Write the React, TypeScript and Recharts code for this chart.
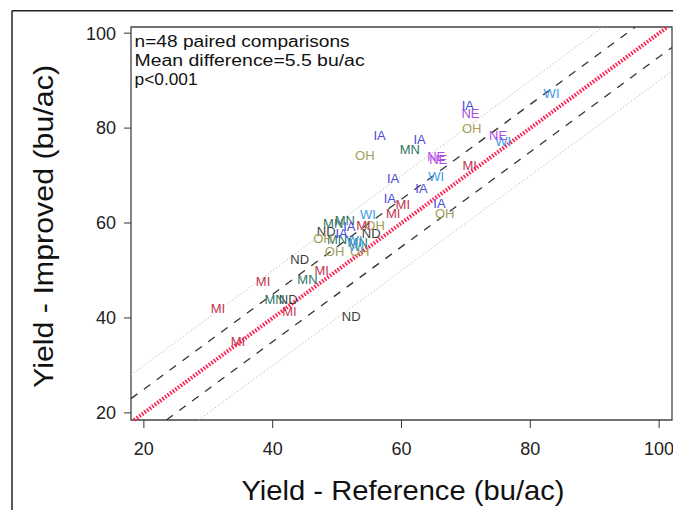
import React from 'react';
import { ScatterChart, Scatter, XAxis, YAxis, ReferenceLine, ReferenceArea } from 'recharts';

// ---- data (Yield - Reference, Yield - Improved), bu/ac ----
const iaPoints = [
  { x: 70.3, y: 84.8 }, { x: 56.6, y: 78.5 }, { x: 62.8, y: 77.5 }, { x: 58.7, y: 69.4 },
  { x: 63.1, y: 67.3 }, { x: 58.2, y: 65.2 }, { x: 65.9, y: 64.1 }, { x: 50.7, y: 57.8 },
  { x: 51.9, y: 59.2 },
];
const nePoints = [
  { x: 70.7, y: 83.1 }, { x: 75.0, y: 78.5 }, { x: 65.4, y: 74.0 }, { x: 65.7, y: 73.3 },
];
const ohPoints = [
  { x: 70.9, y: 79.9 }, { x: 54.3, y: 74.3 }, { x: 66.7, y: 62.0 }, { x: 55.9, y: 59.4 },
  { x: 47.8, y: 56.8 }, { x: 49.6, y: 54.0 }, { x: 53.5, y: 54.0 },
];
const wiPoints = [
  { x: 75.8, y: 77.1 }, { x: 83.3, y: 87.3 }, { x: 65.4, y: 69.7 }, { x: 54.8, y: 61.7 },
  { x: 52.7, y: 56.4 }, { x: 53.0, y: 55.0 },
];
const mnPoints = [
  { x: 61.3, y: 75.4 }, { x: 51.2, y: 60.6 }, { x: 49.4, y: 59.9 }, { x: 53.2, y: 55.8 },
  { x: 45.4, y: 48.2 }, { x: 40.3, y: 43.8 }, { x: 50.0, y: 56.5 },
];
const miPoints = [
  { x: 70.6, y: 72.2 }, { x: 60.2, y: 63.8 }, { x: 58.7, y: 62.0 }, { x: 54.1, y: 59.4 },
  { x: 47.6, y: 50.1 }, { x: 38.5, y: 47.6 }, { x: 42.6, y: 41.3 }, { x: 31.5, y: 42.0 },
  { x: 34.6, y: 35.0 },
];
const ndPoints = [
  { x: 48.3, y: 58.2 }, { x: 55.3, y: 57.8 }, { x: 44.2, y: 52.4 }, { x: 42.4, y: 43.8 },
  { x: 52.2, y: 40.3 },
];

const states = [
  { name: 'ND', data: ndPoints, color: '#3d3d3d' },
  { name: 'MN', data: mnPoints, color: '#2f7566' },
  { name: 'OH', data: ohPoints, color: '#a39e5c' },
  { name: 'MI', data: miPoints, color: '#c2344f' },
  { name: 'WI', data: wiPoints, color: '#3d9ce8' },
  { name: 'NE', data: nePoints, color: '#b04ce6' },
  { name: 'IA', data: iaPoints, color: '#4a4ad8' },
];

const xTicks = [20, 40, 60, 80, 100];
const yTicks = [20, 40, 60, 80, 100];
const xDomain: [number, number] = [18, 102];
const yDomain: [number, number] = [18.5, 101.3];

const annotation = ['n=48 paired comparisons', 'Mean difference=5.5 bu/ac', 'p<0.001'];
const annotationLengths = [215, 230, 63];

// offsets of the 1:1 line and the bands
const bandLines = [
  { d: -10, stroke: '#b5b5b5', width: 1, dash: '1.2 2.2' },
  { d: 10, stroke: '#b5b5b5', width: 1, dash: '1.2 2.2' },
  { d: -5, stroke: '#333333', width: 1.3, dash: '8 8' },
  { d: 5, stroke: '#333333', width: 1.3, dash: '8 8' },
  { d: 0, stroke: '#ff1f4f', width: 4, dash: '1.6 1.6' },
];

function segmentFor(d: number) {
  const x1 = Math.max(xDomain[0], yDomain[0] - d);
  const x2 = Math.min(xDomain[1], yDomain[1] - d);
  return [{ x: x1, y: x1 + d }, { x: x2, y: x2 + d }];
}

const W = 673;
const H = 502;

const makeShape = (label: string, color: string) => (props: any) => {
  const { cx, cy } = props;
  if (cx == null || cy == null) return <g />;
  return (
    <text
      x={cx}
      y={cy}
      textAnchor="middle"
      dominantBaseline="central"
      fontSize={13}
      fontFamily="'Liberation Sans', Arial, sans-serif"
      fill={color}
    >
      {label}
    </text>
  );
};

export default function App() {
  const font = "'Liberation Sans', Arial, sans-serif";
  return (
    <div style={{ position: 'relative', width: W, height: H }}>
      <ScatterChart width={W} height={H} margin={{ top: 19, right: 9, bottom: 50, left: 63 }}>
        <XAxis
          type="number"
          dataKey="x"
          domain={xDomain}
          ticks={xTicks}
          allowDataOverflow
          axisLine={false}
          tickSize={8}
          tickMargin={14}
          height={40}
          tickLine={{ stroke: '#333', strokeWidth: 1 }}
          tick={{ fontSize: 18, fill: '#222', fontFamily: font }}
        />
        <YAxis
          type="number"
          dataKey="y"
          domain={yDomain}
          ticks={yTicks}
          allowDataOverflow
          axisLine={false}
          tickSize={7}
          tickMargin={8}
          width={60}
          tickLine={{ stroke: '#333', strokeWidth: 1 }}
          tick={{ fontSize: 18, fill: '#222', fontFamily: font }}
        />
        <ReferenceArea
          x1={xDomain[0]}
          x2={xDomain[1]}
          y1={yDomain[0]}
          y2={yDomain[1]}
          fill="none"
          fillOpacity={0}
          stroke="#444"
          strokeWidth={1.3}
          ifOverflow="visible"
        />
        {bandLines.map((b) => (
          <ReferenceLine
            key={b.d}
            segment={segmentFor(b.d)}
            stroke={b.stroke}
            strokeWidth={b.width}
            strokeDasharray={b.dash}
            ifOverflow="visible"
          />
        ))}
        {states.map((s) => (
          <Scatter
            key={s.name}
            name={s.name}
            data={s.data}
            fill={s.color}
            isAnimationActive={false}
            shape={makeShape(s.name, s.color)}
          />
        ))}
      </ScatterChart>
      <svg
        width={W}
        height={H}
        style={{ position: 'absolute', left: 0, top: 0, pointerEvents: 'none' }}
      >
        <line x1={4} y1={2.7} x2={4} y2={H} stroke="#222" strokeWidth={1.5} />
        <line x1={4} y1={2.7} x2={W} y2={2.7} stroke="#222" strokeWidth={1.5} />
        {annotation.map((t, i) => (
          <text
            key={t}
            x={126.6}
            y={39 + i * 19}
            fontSize={16}
            fontFamily={font}
            fill="#111"
            textLength={annotationLengths[i]}
            lengthAdjust="spacingAndGlyphs"
          >
            {t}
          </text>
        ))}
        <text
          x={395}
          y={492}
          textAnchor="middle"
          fontSize={28}
          fontFamily={font}
          fill="#111"
          textLength={323}
          lengthAdjust="spacingAndGlyphs"
        >
          Yield - Reference (bu/ac)
        </text>
        <text
          x={45}
          y={218.5}
          textAnchor="middle"
          fontSize={28}
          fontFamily={font}
          fill="#111"
          transform="rotate(-90 45 218.5)"
          textLength={323}
          lengthAdjust="spacingAndGlyphs"
        >
          Yield - Improved (bu/ac)
        </text>
      </svg>
    </div>
  );
}
